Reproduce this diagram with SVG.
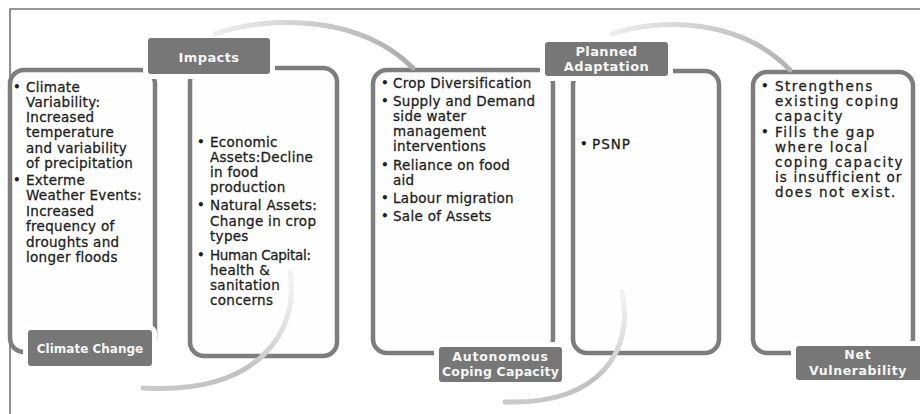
<svg xmlns="http://www.w3.org/2000/svg" width="920" height="414" viewBox="0 0 920 414">
<style>
.frame{fill:none;stroke:#747474;stroke-width:1.6}
.box{fill:#fefefe;stroke:#7d7d7d;stroke-width:4.5}
.lbl{fill:#777777;stroke:#ffffff;stroke-width:10;paint-order:stroke fill}
.t{font-family:"DejaVu Sans","Liberation Sans",sans-serif;font-size:13.5px;fill:#1e1e1e;stroke:#1e1e1e;stroke-width:0.3px}
.bu{font-family:"DejaVu Sans","Liberation Sans",sans-serif;font-size:12px;font-weight:bold;fill:#1e1e1e}
.lt{font-family:"DejaVu Sans","Liberation Sans",sans-serif;font-weight:bold;fill:#f6f6f6;text-anchor:middle}
.arc{fill:none;stroke-width:5;stroke-linecap:round}
</style>
<defs>
<linearGradient id="g1" gradientUnits="userSpaceOnUse" x1="215" y1="34" x2="413" y2="68">
<stop offset="0" stop-color="#ececec"/><stop offset="1" stop-color="#ababab"/>
</linearGradient>
<linearGradient id="g2" gradientUnits="userSpaceOnUse" x1="290" y1="280" x2="143" y2="388">
<stop offset="0" stop-color="#f2f2f2"/><stop offset="0.5" stop-color="#c0c0c0"/><stop offset="1" stop-color="#cacaca"/>
</linearGradient>
<linearGradient id="g3" gradientUnits="userSpaceOnUse" x1="612" y1="34" x2="790" y2="70">
<stop offset="0" stop-color="#ececec"/><stop offset="1" stop-color="#b2b2b2"/>
</linearGradient>
<linearGradient id="g4" gradientUnits="userSpaceOnUse" x1="622" y1="292" x2="505" y2="402">
<stop offset="0" stop-color="#f2f2f2"/><stop offset="0.5" stop-color="#c0c0c0"/><stop offset="1" stop-color="#cacaca"/>
</linearGradient>
</defs>
<rect width="920" height="414" fill="#ffffff"/>
<path class="frame" d="M10 414 V9 H920"/>

<g id="node-climate-change">
<rect class="box" x="10" y="70" width="145" height="282" rx="14"/>
<g style="letter-spacing:0.3px">
<text class="bu" x="13" y="91">•</text>
<text class="t" x="26" y="92">Climate</text>
<text class="t" x="26" y="107">Variability:</text>
<text class="t" x="26" y="122">Increased</text>
<text class="t" x="26" y="137">temperature</text>
<text class="t" x="26" y="152.5">and variability</text>
<text class="t" x="26" y="168">of precipitation</text>
<text class="bu" x="13" y="184">•</text>
<text class="t" x="26" y="185">Exterme</text>
<text class="t" x="26" y="200">Weather Events:</text>
<text class="t" x="26" y="216">Increased</text>
<text class="t" x="26" y="231">frequency of</text>
<text class="t" x="26" y="247">droughts and</text>
<text class="t" x="26" y="262">longer floods</text>
</g>
<rect class="lbl" x="28" y="330" width="124" height="36" rx="3"/>
<text class="lt" x="90" y="352.5" font-size="12">Climate Change</text>
</g>

<g id="node-impacts">
<rect class="box" x="190" y="68" width="147" height="288" rx="14"/>
<g style="letter-spacing:0.3px">
<text class="bu" x="197" y="146">•</text>
<text class="t" x="210" y="147">Economic</text>
<text class="t" x="210" y="162">Assets:Decline</text>
<text class="t" x="210" y="177">in food</text>
<text class="t" x="210" y="192">production</text>
<text class="bu" x="197" y="209">•</text>
<text class="t" x="210" y="210">Natural Assets:</text>
<text class="t" x="210" y="226">Change in crop</text>
<text class="t" x="210" y="241">types</text>
<text class="bu" x="197" y="259">•</text>
<text class="t" x="210" y="260" style="letter-spacing:-0.3px">Human Capital:</text>
<text class="t" x="210" y="275">health &amp;</text>
<text class="t" x="210" y="290">sanitation</text>
<text class="t" x="210" y="305">concerns</text>
</g>
<rect class="lbl" x="148" y="38" width="122" height="36" rx="3"/>
<text class="lt" x="209" y="61.5" font-size="13" style="letter-spacing:0.4px">Impacts</text>
</g>

<g id="node-autonomous-coping">
<rect class="box" x="373" y="70" width="180" height="283" rx="14"/>
<g style="letter-spacing:0.3px">
<text class="bu" x="381" y="87">•</text>
<text class="t" x="393" y="88">Crop Diversification</text>
<text class="bu" x="381" y="105">•</text>
<text class="t" x="393" y="106">Supply and Demand</text>
<text class="t" x="393" y="121">side water</text>
<text class="t" x="393" y="136">management</text>
<text class="t" x="393" y="151">interventions</text>
<text class="bu" x="381" y="169">•</text>
<text class="t" x="393" y="170">Reliance on food</text>
<text class="t" x="393" y="185">aid</text>
<text class="bu" x="381" y="202">•</text>
<text class="t" x="393" y="203">Labour migration</text>
<text class="bu" x="381" y="220">•</text>
<text class="t" x="393" y="221">Sale of Assets</text>
</g>
<rect class="lbl" x="439" y="347" width="123" height="35" rx="3"/>
<text class="lt" x="500.5" y="361" font-size="12.5" style="letter-spacing:0.8px">Autonomous</text>
<text class="lt" x="500.5" y="376" font-size="12.5" style="letter-spacing:0.2px">Coping Capacity</text>
</g>

<g id="node-planned-adaptation">
<rect class="box" x="573" y="71" width="146" height="282" rx="14"/>
<text class="bu" x="580" y="148">•</text>
<text class="t" x="592" y="149" style="letter-spacing:1px">PSNP</text>
<rect class="lbl" x="545" y="42" width="123" height="34" rx="3"/>
<text class="lt" x="606.5" y="56" font-size="13" style="letter-spacing:0.4px">Planned</text>
<text class="lt" x="606.5" y="70.5" font-size="13" style="letter-spacing:0.4px">Adaptation</text>
</g>

<g id="node-net-vulnerability">
<rect class="box" x="753" y="72" width="160" height="281" rx="14"/>
<g style="letter-spacing:1.5px">
<text class="bu" x="761" y="90">•</text>
<text class="t" x="775" y="91">Strengthens</text>
<text class="t" x="775" y="106">existing coping</text>
<text class="t" x="775" y="121">capacity</text>
<text class="bu" x="761" y="136">•</text>
<text class="t" x="775" y="137">Fills the gap</text>
<text class="t" x="775" y="152">where local</text>
<text class="t" x="775" y="167">coping capacity</text>
<text class="t" x="775" y="182" style="letter-spacing:1.1px">is insufficient or</text>
<text class="t" x="775" y="197">does not exist.</text>
</g>
<rect class="lbl" x="796" y="346" width="126" height="34" rx="3"/>
<text class="lt" x="858" y="359" font-size="12.5" style="letter-spacing:0.8px">Net</text>
<text class="lt" x="858" y="375" font-size="12.5" style="letter-spacing:0.6px">Vulnerability</text>
</g>

<g id="connectors">
<path class="arc" stroke="url(#g1)" d="M215 34 C270 15 360 15 413 68"/>
<path class="arc" stroke="url(#g2)" d="M290 272 C300 330 260 395 143 388"/>
<path class="arc" stroke="url(#g3)" d="M612 34 C660 18 740 18 790 70"/>
<path class="arc" stroke="url(#g4)" d="M622 292 C635 350 600 405 505 402"/>
</g>
</svg>
